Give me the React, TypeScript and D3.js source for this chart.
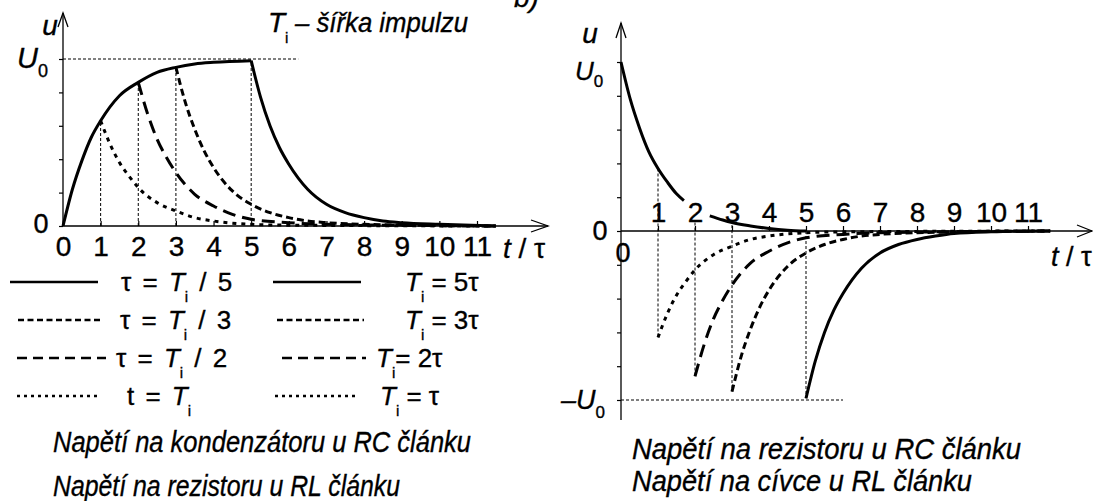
import React, { useEffect, useRef } from "react";
import * as d3 from "d3";

type Pt = [number, number];

// t / tau tick labels
const leftTicks = [0, 1, 2, 3, 4, 5, 6, 7, 8, 9, 10, 11];
const rightTicks = [1, 2, 3, 4, 5, 6, 7, 8, 9, 10, 11];
const leftUTicks = [0, 0.2, 0.4, 0.6, 0.8, 1];
const rightUTicks = [-1, -0.8, -0.6, -0.4, -0.2, 0, 0.2, 0.4, 0.6, 0.8, 1];

// pulse widths Ti (in tau): 5, 3, 2, 1
const pulseWidths = [5, 3, 2, 1];

// left chart: capacitor voltage (RC) / resistor voltage (RL)
const charge: Pt[] = [
  [0, 0], [0.25, 0.22], [0.5, 0.39], [0.75, 0.53], [1, 0.63], [1.5, 0.78],
  [2, 0.86], [2.5, 0.92], [3, 0.95], [3.5, 0.97], [4, 0.98], [5, 0.99],
];
const fallTi5: Pt[] = [
  [5, 0.99], [5.25, 0.77], [5.5, 0.6], [5.75, 0.47], [6, 0.37], [6.5, 0.22],
  [7, 0.13], [7.5, 0.08], [8, 0.05], [8.5, 0.03], [9, 0.02], [10, 0.01], [11.5, 0],
];
const fallTi3: Pt[] = [
  [3, 0.95], [3.25, 0.74], [3.5, 0.58], [3.75, 0.45], [4, 0.35], [4.5, 0.21],
  [5, 0.13], [5.5, 0.08], [6, 0.05], [6.5, 0.03], [7, 0.02], [8, 0.01], [11.5, 0],
];
const fallTi2: Pt[] = [
  [2, 0.86], [2.25, 0.67], [2.5, 0.52], [2.75, 0.41], [3, 0.32], [3.5, 0.19],
  [4, 0.12], [4.5, 0.07], [5, 0.04], [6, 0.02], [7, 0.01], [11.5, 0],
];
const fallTi1: Pt[] = [
  [1, 0.63], [1.25, 0.49], [1.5, 0.38], [1.75, 0.3], [2, 0.23], [2.5, 0.14],
  [3, 0.09], [3.5, 0.05], [4, 0.03], [5, 0.01], [6, 0.005], [11.5, 0],
];

// right chart: resistor voltage (RC) / coil voltage (RL)
const peakA: Pt[] = [
  [0, 1], [0.25, 0.78], [0.5, 0.61], [0.75, 0.47], [1, 0.37], [1.25, 0.29],
  [1.5, 0.22], [1.7, 0.18],
];
const peakB: Pt[] = [
  [2.4, 0.09], [2.75, 0.065], [3, 0.05], [3.5, 0.03], [4, 0.015], [4.5, 0.005], [5, 0],
];
const negTi5: Pt[] = [
  [5, -0.99], [5.25, -0.77], [5.5, -0.6], [5.75, -0.47], [6, -0.37], [6.5, -0.22],
  [7, -0.13], [7.5, -0.08], [8, -0.05], [8.5, -0.03], [9, -0.015], [10, -0.005], [11.6, 0],
];
const negTi3: Pt[] = [
  [3, -0.95], [3.25, -0.74], [3.5, -0.58], [3.75, -0.45], [4, -0.35], [4.5, -0.21],
  [5, -0.13], [5.5, -0.08], [6, -0.05], [6.5, -0.03], [7, -0.02], [8, -0.01], [11.6, 0],
];
const negTi2: Pt[] = [
  [2, -0.86], [2.25, -0.67], [2.5, -0.52], [2.75, -0.41], [3, -0.32], [3.5, -0.19],
  [4, -0.12], [4.5, -0.07], [5, -0.04], [6, -0.02], [7, -0.01], [11.6, 0],
];
const negTi1: Pt[] = [
  [1, -0.63], [1.25, -0.49], [1.5, -0.38], [1.75, -0.3], [2, -0.23], [2.5, -0.14],
  [3, -0.09], [3.5, -0.05], [4, -0.03], [5, -0.01], [6, -0.005], [11.6, 0],
];
// where the thin guide lines start above the t axis on the right chart
const rightGuideTop = [0, 0.035, 0.05, 0.37];

// legend labels, T with subscript i goes between the two parts
const legendLeft = [["τ = ", " / 5"], ["τ = ", " / 3"], ["τ = ", " / 2"], ["t = ", ""]];
const legendRight = [["", " = 5τ"], ["", " = 3τ"], ["", "= 2τ"], ["", " = τ"]];

const FONT = "'Liberation Sans Narrow', 'Arial Narrow', 'Liberation Sans', Arial, sans-serif";
const dashes = [null, "7,4", "13,7", "4,5"];
const legendDashes = [null, "6,3.5", "10,6", "3,4"];

const xL = d3.scaleLinear().domain([0, 11]).range([63, 477]);
const yL = d3.scaleLinear().domain([0, 1]).range([226, 59]);
const xR = d3.scaleLinear().domain([0, 11]).range([621, 1028]);
const yR = d3.scaleLinear().domain([-1, 1]).range([400, 62]);

const lineL = d3.line<Pt>().x((d) => xL(d[0])).y((d) => yL(d[1])).curve(d3.curveMonotoneX);
const lineR = d3.line<Pt>().x((d) => xR(d[0])).y((d) => yR(d[1])).curve(d3.curveMonotoneX);

const Ti = ({ x, y, pre, post, size, sub = 15, ws = 0 }: any) => (
  <text x={x} y={y} fontSize={size} fontFamily={FONT} fill="#000" style={{ wordSpacing: ws }}>
    {pre}
    <tspan fontStyle="italic" fill="#000">T</tspan>
    <tspan fontSize={sub} dy={11} fill="#000">i</tspan>
    <tspan dy={-11} fill="#000">{post}</tspan>
  </text>
);

const App = () => {
  const leftX = useRef<SVGGElement>(null);
  const leftY = useRef<SVGGElement>(null);
  const rightX = useRef<SVGGElement>(null);
  const rightY = useRef<SVGGElement>(null);

  useEffect(() => {
    const style = (g: any) => {
      g.select(".domain").remove();
      g.selectAll("line").attr("stroke", "#000").attr("stroke-width", 1.2);
      g.selectAll("text").attr("fill", "#000").attr("font-family", FONT).attr("font-size", 28);
    };
    d3.select(leftX.current!)
      .call(d3.axisBottom(xL).tickValues(leftTicks).tickSizeInner(-5).tickSizeOuter(0).tickPadding(10).tickFormat(d3.format("d")))
      .call(style);
    d3.select(leftY.current!)
      .call(d3.axisLeft(yL).tickValues(leftUTicks).tickSize(4).tickFormat(() => ""))
      .call(style);
    d3.select(rightX.current!)
      .call(d3.axisTop(xR).tickValues(rightTicks).tickSizeInner(5).tickSizeOuter(0).tickPadding(4).tickFormat(d3.format("d")))
      .call(style);
    d3.select(rightY.current!)
      .call(d3.axisLeft(yR).tickValues(rightUTicks).tickSize(4).tickFormat(() => ""))
      .call(style);
  }, []);

  const leftFalls = [fallTi5, fallTi3, fallTi2, fallTi1];
  const rightNegs = [negTi5, negTi3, negTi2, negTi1];
  const rowY = [282, 320, 358, 396];
  const legL: [number, number, number][] = [[10, 98, 121], [18, 103, 120], [17, 106, 116], [17, 100, 127]];
  const legR: [number, number, number][] = [[273, 361, 405], [277, 364, 405], [282, 366, 376], [275, 357, 380]];

  return (
    <svg width={1093} height={501} style={{ position: "absolute", left: 0, top: 0, background: "#fff" }}>
      <style>{`text, tspan { stroke: #000; stroke-width: 0.35px; }`}</style>
      <rect width={1093} height={501} fill="#fff" />

      {/* figure label cut off at the top edge */}
      <text x={514} y={7} fontSize={28} fontStyle="italic" fontFamily={FONT}>b)</text>

      {/* ===== left chart ===== */}
      <g ref={leftY} transform={`translate(${xL(0)},0)`} />
      <g ref={leftX} transform={`translate(0,${yL(0)})`} />
      <line x1={xL(0)} x2={xL(0)} y1={13} y2={yL(0)} stroke="#000" strokeWidth={1.3} />
      <path d={`M${xL(0) - 5},27 L${xL(0)},13 L${xL(0) + 5},27`} fill="none" stroke="#000" strokeWidth={1.3} />
      <line x1={xL(0)} x2={548} y1={yL(0)} y2={yL(0)} stroke="#000" strokeWidth={1.3} />
      <path d={`M531,${yL(0) - 6} L548,${yL(0)} L531,${yL(0) + 6}`} fill="none" stroke="#000" strokeWidth={1.3} />

      <line x1={xL(0)} x2={xL(6.25)} y1={yL(1)} y2={yL(1)} stroke="#000" strokeWidth={1} strokeDasharray="3,2" />
      {leftFalls.map((s, i) => (
        <line key={i} x1={xL(s[0][0])} x2={xL(s[0][0])} y1={yL(0)} y2={yL(s[0][1])}
          stroke="#000" strokeWidth={1} strokeDasharray="3,2" />
      ))}
      <path d={lineL(charge)!} fill="none" stroke="#000" strokeWidth={3} />
      {leftFalls.map((s, i) => (
        <path key={i} d={lineL(s)!} fill="none" stroke="#000" strokeWidth={3}
          strokeDasharray={dashes[i] ?? undefined} />
      ))}

      <text x={50} y={35} fontSize={28} fontStyle="italic" fontFamily={FONT} textAnchor="middle">u</text>
      <text x={17} y={68} fontSize={29} fontStyle="italic" fontFamily={FONT}>
        U<tspan fontSize={18} fontStyle="normal" dy={9}>0</tspan>
      </text>
      <text x={41} y={233} fontSize={27} fontFamily={FONT} textAnchor="middle">0</text>
      <text x={503} y={258} fontSize={28} fontFamily={FONT}>
        <tspan fontStyle="italic">t</tspan> / τ
      </text>
      <Ti x={268} y={32} pre="" post="" size={28} />
      <text x={295} y={32} fontSize={28} fontStyle="italic" fontFamily={FONT} textLength={173} lengthAdjust="spacingAndGlyphs">
        – šířka impulzu
      </text>

      {/* legend */}
      {pulseWidths.map((_, i) => (
        <g key={i}>
          <line x1={legL[i][0]} x2={legL[i][1]} y1={rowY[i]} y2={rowY[i]} stroke="#000"
            strokeWidth={2.4} strokeDasharray={legendDashes[i] ?? undefined} />
          <line x1={legR[i][0]} x2={legR[i][1]} y1={rowY[i]} y2={rowY[i]} stroke="#000"
            strokeWidth={2.4} strokeDasharray={legendDashes[i] ?? undefined} />
          <Ti x={legL[i][2]} y={rowY[i] + 9} pre={legendLeft[i][0]} post={legendLeft[i][1]} size={26} ws={4} />
          <Ti x={legR[i][2]} y={rowY[i] + 9} pre={legendRight[i][0]} post={legendRight[i][1]} size={26} />
        </g>
      ))}
      <text x={53} y={452} fontSize={30} fontStyle="italic" fontFamily={FONT} textLength={418} lengthAdjust="spacingAndGlyphs">
        Napětí na kondenzátoru u RC článku
      </text>
      <text x={53} y={496} fontSize={30} fontStyle="italic" fontFamily={FONT} textLength={347} lengthAdjust="spacingAndGlyphs">
        Napětí na rezistoru u RL článku
      </text>

      {/* ===== right chart ===== */}
      <g ref={rightY} transform={`translate(${xR(0)},0)`} />
      <g ref={rightX} transform={`translate(0,${yR(0)})`} />
      <line x1={xR(0)} x2={xR(0)} y1={23} y2={420} stroke="#000" strokeWidth={1.3} />
      <path d={`M${xR(0) - 5},38 L${xR(0)},23 L${xR(0) + 5},38`} fill="none" stroke="#000" strokeWidth={1.3} />
      <line x1={xR(0)} x2={1092} y1={yR(0)} y2={yR(0)} stroke="#000" strokeWidth={1.3} />
      <path d={`M1077,${yR(0) - 6} L1092,${yR(0)} L1077,${yR(0) + 6}`} fill="none" stroke="#000" strokeWidth={1.3} />

      <line x1={xR(0)} x2={xR(6)} y1={yR(-1)} y2={yR(-1)} stroke="#000" strokeWidth={1} strokeDasharray="3,2" />
      {rightNegs.map((s, i) => (
        <line key={i} x1={xR(s[0][0])} x2={xR(s[0][0])} y1={yR(rightGuideTop[i])} y2={yR(s[0][1])}
          stroke="#000" strokeWidth={1} strokeDasharray="3,2" />
      ))}
      <path d={lineR(peakA)!} fill="none" stroke="#000" strokeWidth={3} />
      <path d={lineR(peakB)!} fill="none" stroke="#000" strokeWidth={3} />
      {rightNegs.map((s, i) => (
        <path key={i} d={lineR(s)!} fill="none" stroke="#000" strokeWidth={3}
          strokeDasharray={dashes[i] ?? undefined} />
      ))}

      <text x={590} y={43} fontSize={28} fontStyle="italic" fontFamily={FONT} textAnchor="middle">u</text>
      <text x={575} y={80} fontSize={26} fontStyle="italic" fontFamily={FONT}>
        U<tspan fontSize={17} fontStyle="normal" dy={7}>0</tspan>
      </text>
      <text x={600} y={240} fontSize={27} fontFamily={FONT} textAnchor="middle">0</text>
      <text x={623} y={262} fontSize={27} fontFamily={FONT} textAnchor="middle">0</text>
      <text x={561} y={409} fontSize={27} fontStyle="italic" fontFamily={FONT}>
        –U<tspan fontSize={17} fontStyle="normal" dy={9}>0</tspan>
      </text>
      <text x={1051} y={266} fontSize={27} fontFamily={FONT}>
        <tspan fontStyle="italic">t</tspan> / τ
      </text>
      <text x={632} y={459} fontSize={30} fontStyle="italic" fontFamily={FONT} textLength={389} lengthAdjust="spacingAndGlyphs">
        Napětí na rezistoru u RC článku
      </text>
      <text x={632} y={491} fontSize={30} fontStyle="italic" fontFamily={FONT} textLength={340} lengthAdjust="spacingAndGlyphs">
        Napětí na cívce u RL článku
      </text>
    </svg>
  );
};

export default App;
